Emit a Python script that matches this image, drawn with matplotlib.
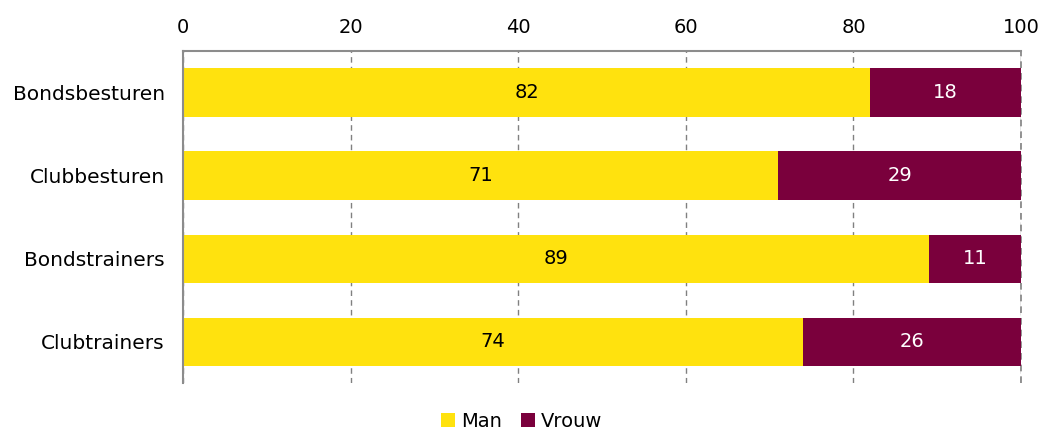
import numpy as np
import matplotlib.pyplot as plt

# Data
categories = ['Bondsbesturen', 'Clubbesturen', 'Bondstrainers', 'Clubtrainers']
man = [82, 71, 89, 74]
vrouw = [18, 29, 11, 26]

yellow = '#FFE20E'
maroon = '#7A003C'

plt.rcParams['font.family'] = ['DejaVu Sans']

fig = plt.figure(figsize=(10.43, 4.29), dpi=100)
ax = fig.add_axes([0.1755, 0.107, 0.979 - 0.1755, 0.881 - 0.107])

y = np.arange(len(categories))
b1 = ax.barh(y, man, height=0.58, color=yellow, label='Man')
b2 = ax.barh(y, vrouw, left=man, height=0.58, color=maroon, label='Vrouw')

for i in range(len(categories)):
    ax.text(man[i] / 2, y[i], str(man[i]), ha='center', va='center',
            fontsize=14, color='black')
    ax.text(man[i] + vrouw[i] / 2, y[i], str(vrouw[i]), ha='center',
            va='center', fontsize=14, color='white')

ax.set_xlim(0, 100)
ax.set_ylim(3.5, -0.5)
ax.set_yticks(y)
ax.set_yticklabels(categories, fontsize=14.5)
ax.set_xticks(np.arange(0, 101, 20))
ax.xaxis.tick_top()
ax.tick_params(axis='x', labelsize=14, length=0, pad=10)
ax.tick_params(axis='y', length=0, pad=13)

ax.grid(axis='x', linestyle=(0, (4, 3)), color='#808080', linewidth=1)
ax.axvline(100, linestyle=(0, (4, 3)), color='#808080', linewidth=1.2,
           clip_on=False, zorder=0)
ax.set_axisbelow(True)
for s in ['bottom', 'right']:
    ax.spines[s].set_visible(False)
for s in ['top', 'left']:
    ax.spines[s].set_color('#8c8c8c')
    ax.spines[s].set_linewidth(1.5)

fig.legend(handles=[b1, b2], loc='lower center', ncol=2, frameon=False,
           fontsize=14, handlelength=0.7, handleheight=0.7, handletextpad=0.3,
           columnspacing=1.0, bbox_to_anchor=(0.5, -0.045))

fig.savefig('out.png', dpi=100)
